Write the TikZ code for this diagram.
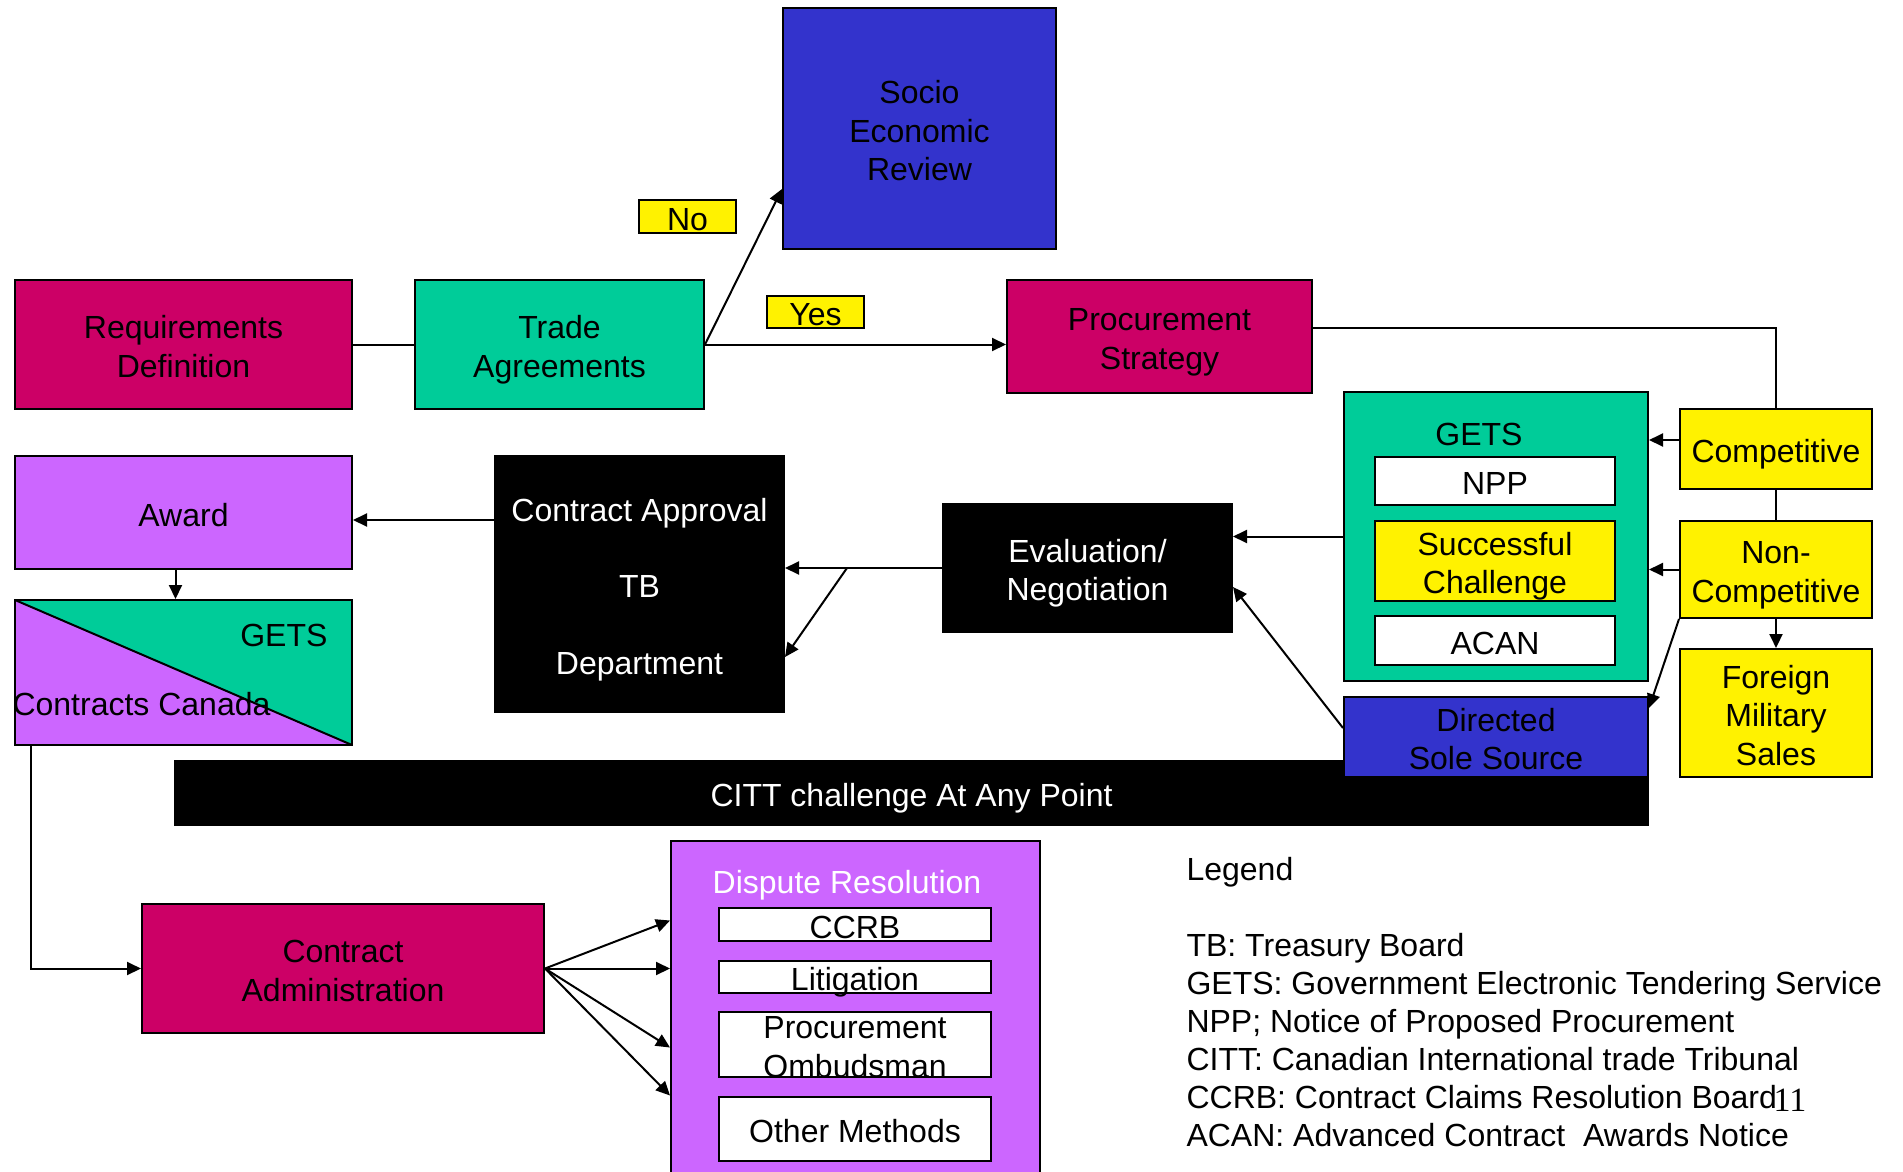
\documentclass[tikz,border=0pt]{standalone}
\usepackage{fontspec}
\setmainfont{Liberation Sans}
\newfontfamily\serifnum{Liberation Serif}
\usetikzlibrary{arrows.meta,positioning}

\definecolor{crimson}{HTML}{CC0066}
\definecolor{tealgreen}{HTML}{00CC99}
\definecolor{royal}{HTML}{3333CC}
\definecolor{lilac}{HTML}{CC66FF}

\begin{document}
\begin{tikzpicture}[x=1pt,y=-1pt,>={Triangle[length=14pt,width=13pt]},
    font=\fontsize{32}{38.5}\selectfont,
    box/.style={draw,line width=2pt,inner sep=0pt,align=center,text height=29pt,text depth=2pt},
    two lines/.style={text height=67.5pt},
    three lines/.style={text height=106pt},
    redbox/.style={box,fill=crimson},
    greenbox/.style={box,fill=tealgreen},
    bluebox/.style={box,fill=royal},
    purplebox/.style={box,fill=lilac},
    yellowbox/.style={box,fill=yellow},
    whitebox/.style={box,fill=white,minimum width=240pt},
    blackbox/.style={box,fill=black,text=white},
    tagbox/.style={box,fill=yellow,line width=1.5pt,minimum width=97pt,minimum height=33pt},
    splitbox/.style={box,fill=lilac,minimum width=337pt,minimum height=145pt,
      path picture={
        \fill[tealgreen] (path picture bounding box.north west) -- (path picture bounding box.north east)
          -- (path picture bounding box.south east) -- cycle;
        \draw[line width=2pt] (path picture bounding box.north west) -- (path picture bounding box.south east);}},
    link/.style={line width=2pt}]

  \path[use as bounding box,fill=white] (0,0) rectangle (1903,1172);

  % top row
  \node[redbox,two lines,minimum width=337pt,minimum height=129pt] (req) at (183.5,344.5) {Requirements\\Definition};
  \node[greenbox,two lines,minimum width=289pt,minimum height=129pt] (trade) [right=61pt of req] {Trade\\Agreements};
  \node[bluebox,three lines,minimum width=273pt,minimum height=241pt] (socio) at (919.5,128.5) {Socio\\Economic\\Review};
  \node[tagbox] (no) at (687.5,216.5) {No};
  \node[tagbox,minimum height=32pt] (yes) at (815.5,312) {Yes};
  \node[redbox,two lines,minimum width=305pt,minimum height=113pt] (proc) at (1159.5,336.5) {Procurement\\Strategy};

  % procurement types
  \node[yellowbox,minimum width=192pt,minimum height=80pt] (comp) at (1776,449) {Competitive};
  \node[yellowbox,two lines,minimum width=192pt,minimum height=97pt] (noncomp) [below=30pt of comp] {Non-\\Competitive};
  \node[yellowbox,three lines,minimum width=192pt,minimum height=128pt] (fms) [below=29pt of noncomp] {Foreign\\Military\\Sales};

  % GETS
  \node[greenbox,minimum width=304pt,minimum height=289pt] (gets) at (1496,536.5) {};
  \node (getsname) at (1479,434) {GETS};
  \node[whitebox,minimum height=48pt] (npp) at (1495,481) {NPP};
  \node[yellowbox,two lines,minimum width=240pt,minimum height=80pt] (succ) [below=14pt of npp] {Successful\\Challenge};
  \node[whitebox,minimum height=49pt] (acan) [below=13pt of succ] {ACAN};

  \node[blackbox,minimum width=1473pt,minimum height=64pt] (citt) at (911.5,793) {CITT challenge At Any Point};
  \node[bluebox,two lines,minimum width=304pt,minimum height=80pt] (directed) [below=14pt of gets] {Directed\\Sole Source};

  % middle row
  \node[blackbox,two lines,minimum width=289pt,minimum height=128pt] (eval) at (1087.5,568) {Evaluation/\\Negotiation};
  \node[blackbox,text height=182pt,minimum width=289pt,minimum height=256pt] (approval) at (639.5,584) {Contract Approval\\[38pt]TB\\[38pt]Department};
  \node[purplebox,minimum width=337pt,minimum height=113pt] (award) at (183.5,512.5) {Award};
  \node[splitbox] (cc) [below=29pt of award] {};
  \node[anchor=east] (ccgets) at ([xshift=-22pt,yshift=-36pt]cc.north east) {GETS};
  \node[anchor=west] (ccname) at ([xshift=-5pt,yshift=-32pt]cc.west) {Contracts Canada};

  % bottom row
  \node[redbox,two lines,minimum width=402pt,minimum height=129pt] (admin) at (343,968.5) {Contract\\Administration};
  \node[purplebox,minimum width=369pt,minimum height=339pt] (dispute) at (855.5,1010.5) {};
  \node[text=white] (disputename) at (847,885) {Dispute Resolution};
  \node[whitebox,minimum width=272pt,minimum height=33pt] (ccrb) at (855,924.5) {CCRB};
  \node[whitebox,minimum width=272pt,minimum height=32pt] (litig) [below=18pt of ccrb] {Litigation};
  \node[whitebox,text height=65pt,text depth=0pt,minimum width=272pt,minimum height=65pt] (ombuds) [below=17pt of litig] {Procurement\\Ombudsman};
  \node[whitebox,minimum width=272pt,minimum height=64pt] (other) [below=18pt of ombuds] {Other Methods};

  % connectors
  \draw[link] (req) -- (trade);
  \draw[link,->] (trade.east) -- ([yshift=61pt]socio.south west);
  \draw[link,->] (trade.east) -- (trade.east -| proc.west);
  \draw[link] ([yshift=9pt]proc.east) -| (comp.north);
  \coordinate (compout) at ([yshift=9pt]comp.west);
  \draw[link,->] (compout) -- (compout -| gets.east);
  \draw[link] (comp) -- (noncomp);
  \draw[link,->] (noncomp.west) -- (noncomp.west -| gets.east);
  \draw[link,->] (noncomp) -- (fms);
  \draw[link,->] (noncomp.south west) -- ([yshift=-12pt]directed.north east);
  \draw[link,->] (gets.west) -- (gets.west -| eval.east);
  \draw[link,->] ([yshift=9pt]directed.west) -- ([yshift=-19pt]eval.east);
  \coordinate (split) at (847,568);
  \draw[link] (eval.west) -- (split);
  \draw[link,->] (split) -- (split -| approval.east);
  \draw[link,->] (split) -- ([yshift=-73pt]approval.east);
  \coordinate (awardin) at ([yshift=64pt]approval.west);
  \draw[link,->] (awardin) -- (awardin -| award.east);
  \coordinate (ccin) at ([xshift=-8pt]award.south);
  \draw[link,->] (ccin) -- (ccin |- cc.north);
  \coordinate (ccout) at ([xshift=17pt]cc.south west);
  \draw[link,->] (ccout) |- (admin.west);
  \foreach \dy in {90,42,-37,-85}
    \draw[link,->] (admin.east) -- ([yshift=\dy pt]dispute.west);

  % legend
  \node[anchor=base west] (legend) at (1183,880) {Legend};
  \foreach \entry [count=\i from 0] in {TB: Treasury Board,GETS: Government Electronic Tendering Service,NPP; Notice of Proposed Procurement,CITT: Canadian International trade Tribunal,CCRB: Contract Claims Resolution Board,ACAN: Advanced Contract\ \ Awards Notice}
    \node[anchor=base west] (legend\i) at (1183,956+38*\i) {\entry};
  \node[anchor=base west,font=\serifnum\fontsize{34}{38}\selectfont] (pagenum) at (1770,1111) {11};
\end{tikzpicture}
\end{document}
